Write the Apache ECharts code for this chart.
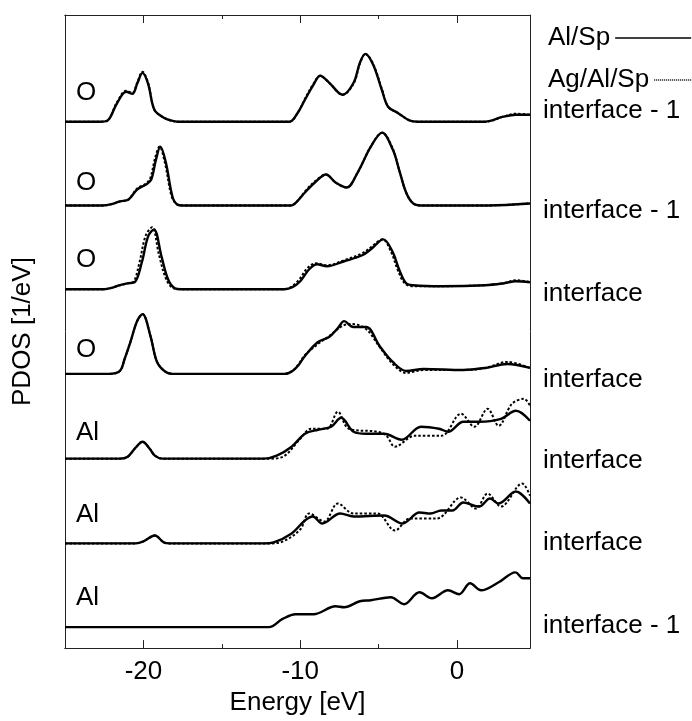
<!DOCTYPE html>
<html>
<head>
<meta charset="utf-8">
<script src="https://cdn.jsdelivr.net/npm/echarts@6/dist/echarts.min.js"></script>
<style>html,body{margin:0;padding:0;background:#fff}#c{width:692px;height:721px}</style>
</head>
<body>
<div id="c"></div>
<script>
// Energy axis ticks / labels
const xMajorTicks = [-20, -10, 0];
const xMinorTicks = [-15, -5];
// Vertical offsets of the stacked curves (top row first), arbitrary units
const rowOffsets = [52.8, 44.4, 36.0, 27.5, 19.0, 10.5, 2.1];
const rowAtoms = ['O', 'O', 'O', 'O', 'Al', 'Al', 'Al'];
const rowLayers = ['interface - 1', 'interface - 1', 'interface', 'interface', 'interface', 'interface', 'interface - 1'];
const seriesNames = ['Al/Sp', 'Ag/Al/Sp'];

// PDOS curves [energy, pdos] – Al/Sp (solid)
const row1Solid = [[-25,0],[-22.8,0],[-22.3,0.1],[-21.7,1.8],[-21.1,3.0],[-20.7,2.8],[-20.4,3.8],[-20.06,4.9],[-19.7,3.8],[-19.3,1.2],[-18.7,0.4],[-18.2,0.1],[-17.8,0],[-10.7,0],[-10.2,0.8],[-9.7,2.2],[-9.16,3.7],[-8.73,4.6],[-8.15,3.9],[-7.3,2.7],[-6.6,3.9],[-6.2,5.9],[-5.85,6.8],[-5.35,5.7],[-4.8,3.2],[-4.4,1.5],[-3.8,0.9],[-3.0,0.1],[-2.5,0],[1.8,0],[2.95,0.5],[3.75,0.7],[4.65,0.7]];
const row2Solid = [[-25,0],[-22.6,0],[-22.1,0.1],[-21.5,0.4],[-20.95,0.6],[-20.4,1.6],[-19.83,2.1],[-19.5,2.6],[-19.2,4.6],[-18.92,5.9],[-18.57,4.3],[-18.15,0.9],[-17.85,0.1],[-17.5,0],[-10.6,0],[-10.2,0.4],[-9.7,1.3],[-9.0,2.4],[-8.36,3.1],[-7.75,2.3],[-7.04,1.8],[-6.34,3.3],[-5.5,5.9],[-4.78,7.3],[-4.1,5.6],[-3.7,3.6],[-3.25,1.3],[-2.8,0.2],[-2.3,0],[2.0,0],[4.65,0.2]];
const row3Solid = [[-25,0],[-22.5,0],[-22.1,0.1],[-21.5,0.4],[-20.95,0.6],[-20.55,0.7],[-20.1,2.7],[-19.7,5.3],[-19.33,6.0],[-18.85,3.3],[-18.43,1.0],[-18.0,0.1],[-17.6,0],[-11.0,0],[-10.5,0.2],[-10.0,0.8],[-9.43,2.0],[-8.93,2.5],[-8.3,2.3],[-7.2,2.8],[-6.05,3.4],[-5.5,4.0],[-4.7,5.0],[-4.1,3.7],[-3.7,2.0],[-3.25,0.6],[-2.8,0.4],[-1.0,0.3],[1.8,0.4],[3.0,0.6],[3.75,0.8],[4.65,0.7]];
const row4Solid = [[-25,0],[-22.2,0],[-21.5,0.3],[-21.2,1.5],[-20.83,3.2],[-20.4,5.3],[-20.06,6.0],[-19.55,3.8],[-19.13,1.2],[-18.57,0.2],[-18.0,0],[-11.0,0],[-10.5,0.3],[-10.1,0.9],[-9.7,1.8],[-8.87,3.2],[-8.16,3.7],[-7.6,4.6],[-7.2,5.3],[-6.62,4.7],[-5.8,4.7],[-4.94,2.8],[-4.1,1.2],[-3.25,0.3],[-2.13,0.5],[0.38,0.4],[1.8,0.6],[3.2,1.0],[4.65,0.6]];
const row5Solid = [[-25,0],[-21.5,0],[-21.0,0.2],[-20.5,1.1],[-20.06,1.7],[-19.6,1.0],[-19.27,0.3],[-18.8,0],[-12.3,0],[-11.5,0.3],[-10.55,1.2],[-9.7,2.5],[-8.87,2.9],[-8.03,3.2],[-7.4,4.1],[-6.6,2.7],[-5.8,2.5],[-4.65,2.5],[-3.53,1.9],[-2.3,3.2],[-1.15,3.0],[-0.57,2.7],[0.4,3.7],[1.4,3.7],[2.8,4.0],[3.75,4.8],[4.65,3.8]];
const row6Solid = [[-25,0],[-20.5,0],[-20.0,0.2],[-19.27,0.8],[-18.7,0.1],[-18.3,0],[-12.3,0],[-11.7,0.1],[-10.55,1.0],[-9.7,2.3],[-9.2,2.7],[-8.6,2.0],[-7.45,3.0],[-6.6,2.7],[-4.65,2.8],[-3.47,2.0],[-2.4,3.1],[-1.7,3.0],[-1.0,3.3],[-0.3,3.3],[0.4,4.1],[1.4,3.7],[2.1,4.5],[2.65,4.0],[3.75,5.2],[4.65,4.0]];
const row7Solid = [[-25,0],[-12.0,0],[-11.15,0.8],[-10.3,1.3],[-9.15,1.3],[-7.75,2.1],[-7.2,2.0],[-6.2,2.6],[-5.5,2.7],[-4.23,3.0],[-3.38,2.3],[-2.4,3.5],[-1.6,2.9],[-0.58,3.7],[0.13,3.3],[0.83,4.4],[1.53,3.7],[2.65,4.5],[3.72,5.5],[4.2,4.9],[4.65,4.9]];

// Ag/Al/Sp (dotted)
const row1Dotted = [[-25,0],[-22.8,0],[-22.3,0.1],[-21.7,1.9],[-21.1,3.1],[-20.7,2.9],[-20.4,3.9],[-20.06,5.0],[-19.7,3.9],[-19.3,1.2],[-18.7,0.4],[-18.2,0.1],[-17.8,0],[-10.7,0],[-10.2,0.8],[-9.7,2.3],[-9.16,3.8],[-8.73,4.6],[-8.15,3.9],[-7.3,2.7],[-6.6,3.8],[-6.2,5.8],[-5.85,6.8],[-5.35,5.8],[-4.8,3.3],[-4.4,1.5],[-3.8,0.9],[-3.0,0.1],[-2.5,0],[1.8,0],[2.95,0.5],[3.75,0.8],[4.65,0.7]];
const row2Dotted = [[-25,0],[-22.6,0],[-22.1,0.1],[-21.5,0.4],[-20.95,0.6],[-20.4,1.7],[-19.83,2.2],[-19.55,2.8],[-19.25,4.8],[-18.97,5.9],[-18.62,4.2],[-18.2,0.9],[-17.85,0.1],[-17.5,0],[-10.6,0],[-10.2,0.4],[-9.7,1.4],[-9.0,2.5],[-8.36,3.1],[-7.75,2.3],[-7.04,1.8],[-6.34,3.3],[-5.5,5.9],[-4.78,7.3],[-4.1,5.7],[-3.7,3.6],[-3.25,1.3],[-2.8,0.2],[-2.3,0],[2.0,0],[4.65,0.2]];
const row3Dotted = [[-25,0],[-22.5,0],[-22.1,0.1],[-21.5,0.4],[-20.95,0.6],[-20.6,0.8],[-20.25,2.7],[-19.85,5.4],[-19.45,6.2],[-19.0,3.4],[-18.55,1.0],[-18.1,0.1],[-17.6,0],[-11.0,0],[-10.6,0.2],[-10.1,0.9],[-9.55,2.1],[-9.0,2.6],[-8.3,2.4],[-7.2,2.9],[-6.05,3.6],[-5.5,4.2],[-4.75,5.0],[-4.2,3.7],[-3.8,2.0],[-3.35,0.6],[-2.8,0.3],[-1.0,0.3],[1.8,0.4],[3.0,0.6],[3.75,0.9],[4.65,0.7]];
const row4Dotted = [[-25,0],[-22.2,0],[-21.5,0.3],[-21.2,1.5],[-20.83,3.2],[-20.4,5.3],[-20.06,6.0],[-19.55,3.8],[-19.13,1.2],[-18.57,0.2],[-18.0,0],[-11.0,0],[-10.5,0.3],[-10.1,1.0],[-9.7,1.9],[-8.87,3.0],[-8.16,3.8],[-7.6,4.5],[-7.2,4.9],[-6.7,5.0],[-5.8,4.5],[-4.94,2.7],[-4.1,1.0],[-3.25,0.1],[-2.13,0.4],[0.38,0.4],[1.8,0.6],[3.2,1.2],[4.65,0.6]];
const row5Dotted = [[-25,0],[-21.5,0],[-21.0,0.2],[-20.5,1.1],[-20.06,1.7],[-19.6,1.0],[-19.27,0.3],[-18.8,0],[-12.0,0],[-11.1,0.2],[-10.0,2.0],[-9.3,3.0],[-8.3,3.0],[-7.6,4.7],[-6.9,3.0],[-5.1,2.7],[-4.5,2.3],[-3.96,1.2],[-2.7,2.3],[-1.0,2.3],[0.25,4.5],[1.1,3.2],[1.95,5.0],[2.65,3.3],[3.5,5.5],[4.27,6.0],[4.65,5.3]];
const row6Dotted = [[-25,0],[-20.5,0],[-20.0,0.2],[-19.27,0.8],[-18.7,0.1],[-18.3,0],[-12.0,0],[-11.1,0.2],[-10.0,1.4],[-9.43,3.0],[-8.47,2.2],[-7.6,4.0],[-6.6,3.0],[-5.1,3.0],[-3.96,1.3],[-3.0,2.5],[-1.3,2.5],[0.25,4.6],[1.2,3.5],[1.95,5.0],[2.8,3.7],[4.15,6.0],[4.65,4.8]];

const solidRows = [row1Solid, row2Solid, row3Solid, row4Solid, row5Solid, row6Solid, row7Solid];
const dottedRows = [row1Dotted, row2Dotted, row3Dotted, row4Dotted, row5Dotted, row6Dotted, null];

const FONT = 'Liberation Sans';
const FS = 26;
const chart = echarts.init(document.getElementById('c'), null, {renderer: 'canvas'});

const series = [];
solidRows.forEach((rows, i) => {
  series.push({
    name: seriesNames[0], type: 'line', xAxisIndex: 0, yAxisIndex: 0,
    data: rows.map(p => [p[0], p[1] + rowOffsets[i]]),
    showSymbol: false, symbol: 'none', smooth: 0.35, silent: true, color: '#000',
    itemStyle: {color: '#000'},
    lineStyle: {color: '#000', width: 2.4, type: 'solid'}, z: 3
  });
});
dottedRows.forEach((rows, i) => {
  if (!rows) return;
  series.push({
    name: seriesNames[1], type: 'line', xAxisIndex: 0, yAxisIndex: 0,
    data: rows.map(p => [p[0], p[1] + rowOffsets[i]]),
    showSymbol: false, symbol: 'none', smooth: 0.35, silent: true, color: '#000',
    itemStyle: {color: '#000'},
    lineStyle: {color: '#000', width: 2, type: [2.5, 2]}, z: 4
  });
});

const leftLabelY = [95, 185, 262, 352, 435, 517, 600];
const rightLabelY = [113, 213, 296, 382, 463, 545, 628];
const graphic = [];
rowAtoms.forEach((t, i) => graphic.push({type: 'text', left: 76, top: leftLabelY[i] - 15,
  style: {text: t, font: FS + 'px "' + FONT + '"', fill: '#000'}}));
rowLayers.forEach((t, i) => graphic.push({type: 'text', left: 543, top: rightLabelY[i] - 15,
  style: {text: t, font: FS + 'px "' + FONT + '"', fill: '#000'}}));

const axisBase = (pos) => ({
  type: 'value', min: -25, max: 4.65, position: pos,
  axisLine: {show: true, onZero: false, lineStyle: {color: '#222', width: 1}},
  splitLine: {show: false}
});
const legendCommon = {
  left: 543, align: 'right', itemHeight: 14, selectedMode: false,
  textStyle: {fontFamily: FONT, fontSize: FS, color: '#000'},
  itemStyle: {opacity: 0}
};

chart.setOption({
  animation: false,
  backgroundColor: '#fff',
  grid: {left: 65, right: 162, top: 15, bottom: 71},
  legend: [
    Object.assign({}, legendCommon, {data: [seriesNames[0]], top: 20, itemWidth: 76,
      lineStyle: {width: 1.3, color: '#000'}}),
    Object.assign({}, legendCommon, {data: [seriesNames[1]], top: 62, itemWidth: 44,
      lineStyle: {width: 1.3, color: '#000', type: [1, 1]}})
  ],
  xAxis: [
    Object.assign(axisBase('bottom'), {
      name: 'Energy [eV]', nameLocation: 'middle', nameGap: 41,
      nameTextStyle: {fontFamily: FONT, fontSize: FS, color: '#000'},
      axisTick: {show: true, inside: true, length: 8, customValues: xMajorTicks, lineStyle: {color: '#222'}},
      axisLabel: {show: true, margin: 11, customValues: xMajorTicks, fontFamily: FONT, fontSize: FS, color: '#000'}
    }),
    Object.assign(axisBase('top'), {
      axisTick: {show: true, inside: true, length: 8, customValues: xMajorTicks, lineStyle: {color: '#222'}},
      axisLabel: {show: false}
    }),
    Object.assign(axisBase('bottom'), {
      axisTick: {show: true, inside: true, length: 4, customValues: xMinorTicks, lineStyle: {color: '#222'}},
      axisLabel: {show: false}
    }),
    Object.assign(axisBase('top'), {
      axisTick: {show: true, inside: true, length: 4, customValues: xMinorTicks, lineStyle: {color: '#222'}},
      axisLabel: {show: false}
    })
  ],
  yAxis: [
    {type: 'value', min: 0, max: 63.5, position: 'left',
     name: 'PDOS [1/eV]', nameLocation: 'middle', nameGap: 29, nameRotate: 90,
     nameTextStyle: {fontFamily: FONT, fontSize: FS, color: '#000'},
     axisLine: {show: true, onZero: false, lineStyle: {color: '#222', width: 1}},
     axisTick: {show: false}, axisLabel: {show: false}, splitLine: {show: false}},
    {type: 'value', min: 0, max: 63.5, position: 'right',
     axisLine: {show: true, onZero: false, lineStyle: {color: '#222', width: 1}},
     axisTick: {show: false}, axisLabel: {show: false}, splitLine: {show: false}}
  ],
  graphic: graphic,
  series: series
});
</script>
</body>
</html>
